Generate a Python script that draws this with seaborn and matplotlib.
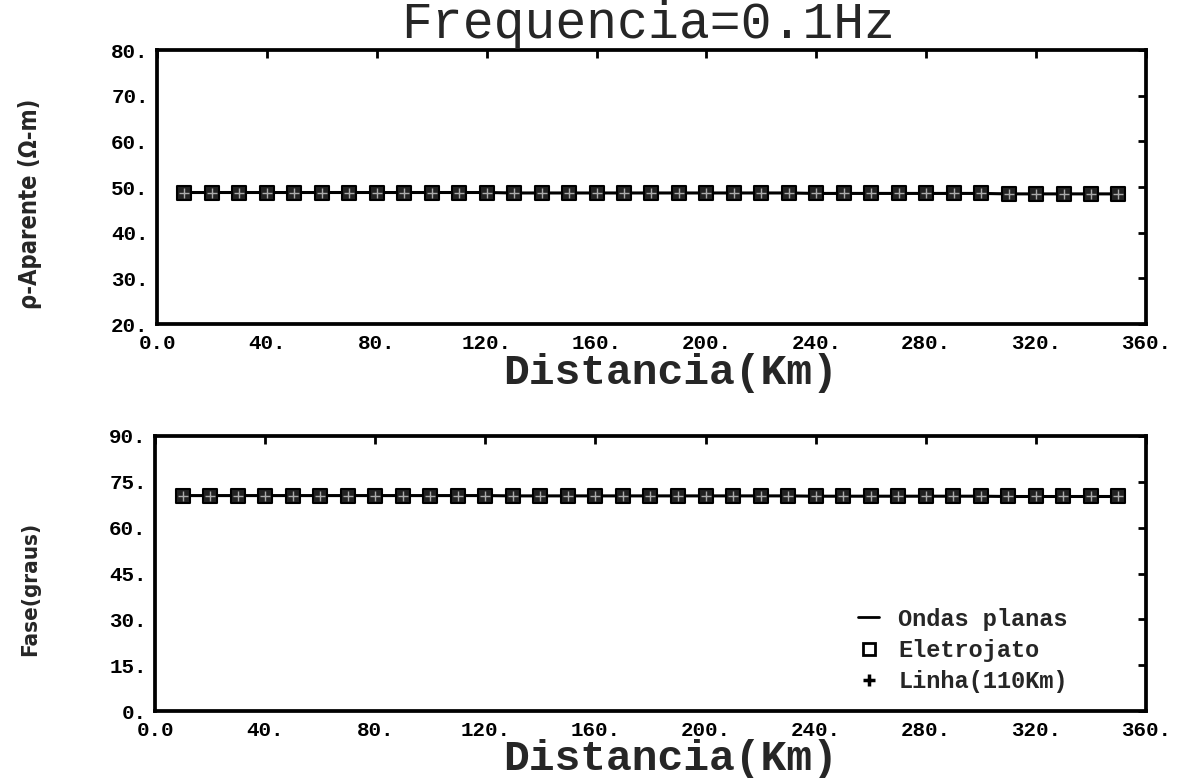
import matplotlib
matplotlib.use("Agg")
import matplotlib.pyplot as plt
from matplotlib.lines import Line2D
import seaborn as sns
import pandas as pd

# ---- data ----
distancia = [10, 20, 30, 40, 50, 60, 70, 80, 90, 100, 110, 120, 130, 140, 150, 160, 170, 180,
             190, 200, 210, 220, 230, 240, 250, 260, 270, 280, 290, 300, 310, 320, 330, 340, 350]
rho_ondas = [48.8, 48.8, 48.8, 48.8, 48.8, 48.8, 48.8, 48.8, 48.8, 48.8, 48.8, 48.8,
             48.7, 48.7, 48.7, 48.7, 48.7, 48.7, 48.7, 48.7, 48.7, 48.7, 48.7,
             48.6, 48.6, 48.6, 48.6, 48.6, 48.6, 48.6, 48.5, 48.5, 48.5, 48.5, 48.5]
rho_eletrojato = list(rho_ondas)
rho_linha = list(rho_ondas)
fase_ondas = [70.5, 70.5, 70.5, 70.5, 70.5, 70.5, 70.5, 70.5, 70.5, 70.5, 70.5, 70.5,
              70.4, 70.4, 70.4, 70.4, 70.4, 70.4, 70.4, 70.4, 70.4, 70.4, 70.4,
              70.3, 70.3, 70.3, 70.3, 70.3, 70.3, 70.3, 70.2, 70.2, 70.2, 70.2, 70.2]
fase_eletrojato = list(fase_ondas)
fase_linha = list(fase_ondas)

x_ticks = [0, 40, 80, 120, 160, 200, 240, 280, 320, 360]
x_labels = ["0.0", "40.", "80.", "120.", "160.", "200.", "240.", "280.", "320.", "360."]
rho_ticks = [20, 30, 40, 50, 60, 70, 80]
rho_labels = ["20.", "30.", "40.", "50.", "60.", "70.", "80."]
fase_ticks = [0, 15, 30, 45, 60, 75, 90]
fase_labels = ["0.", "15.", "30.", "45.", "60.", "75.", "90."]
legend_labels = ["Ondas planas", "Eletrojato", "Linha(110Km)"]

title = "Frequencia=0.1Hz"
xlabel = "Distancia(Km)"
ylabel_top = "\u03c1-Aparente (\u03a9-m)"
ylabel_bot = "Fase(graus)"

sns.set_style("white")
plt.rcParams["font.family"] = ["DejaVu Sans"]

fig = plt.figure(figsize=(11.78, 7.78), dpi=100)
ax1 = fig.add_axes([0.1333, 0.5835, 0.8395, 0.3522])
ax2 = fig.add_axes([0.1316, 0.0861, 0.8412, 0.3535])

mono = dict(family="Liberation Mono", weight="bold")

def draw(ax, yo, ye, yl, yticks, ylabels, ylim):
    df = pd.DataFrame({"x": distancia, "ondas": yo, "elet": ye, "linha": yl})
    sns.lineplot(data=df, x="x", y="ondas", ax=ax, color="black", linewidth=2.2, zorder=2)
    sns.scatterplot(data=df, x="x", y="elet", ax=ax, marker="s", s=100,
                    facecolor="#222222", edgecolor="black", linewidth=1.5, zorder=3)
    sns.scatterplot(data=df, x="x", y="linha", ax=ax, marker="+", s=60,
                    color="#aaaaaa", linewidth=1.0, zorder=4)
    ax.set_xlim(0, 360)
    ax.set_ylim(*ylim)
    ax.set_xticks(x_ticks)
    ax.set_xticklabels(x_labels, **mono, fontsize=15)
    ax.set_yticks(yticks)
    ax.set_yticklabels(ylabels, **mono, fontsize=15)
    ax.tick_params(direction="in", length=6, width=2, top=True, right=True,
                   colors="black")
    ax.tick_params(axis="x", pad=7)
    ax.tick_params(axis="y", pad=6)
    for s in ax.spines.values():
        s.set_linewidth(2.7)
        s.set_color("black")
    ax.set_xlabel("")
    ax.set_ylabel("")

draw(ax1, rho_ondas, rho_eletrojato, rho_linha, rho_ticks, rho_labels, (20, 80))
draw(ax2, fase_ondas, fase_eletrojato, fase_linha, fase_ticks, fase_labels, (0, 90))

# axis labels
fig.text(671 / 1178, 1 - 373 / 778, xlabel, ha="center", va="center", **mono, fontsize=31)
fig.text(671 / 1178, 1 - 759 / 778, xlabel, ha="center", va="center", **mono, fontsize=31)
fig.text(30 / 1178, 1 - 204 / 778, ylabel_top, rotation=90, ha="center", va="center",
         family="DejaVu Sans", stretch="condensed", weight="bold", fontsize=17)
fig.text(30 / 1178, 1 - 589 / 778, ylabel_bot, rotation=90, ha="center", va="center",
         family="DejaVu Sans", stretch="condensed", weight="bold", fontsize=16)

fig.text(648 / 1178, 1 - 38 / 778, title, ha="center", va="baseline",
         family="Liberation Mono", fontsize=37)

handles = [Line2D([], [], color="black", linewidth=2),
           Line2D([], [], linestyle="none", marker="s", markersize=8, markerfacecolor="white",
                  markeredgecolor="black", markeredgewidth=2),
           Line2D([], [], linestyle="none", marker="+", markersize=9, color="black",
                  markeredgewidth=2.5)]
ax2.legend(handles, legend_labels, loc="center left", bbox_to_anchor=(0.688, 0.22),
           frameon=False, handlelength=0.9, handletextpad=0.8, labelspacing=0.35,
           prop=dict(family="Liberation Mono", weight="bold", size=17))

fig.savefig("out.png", dpi=100)
